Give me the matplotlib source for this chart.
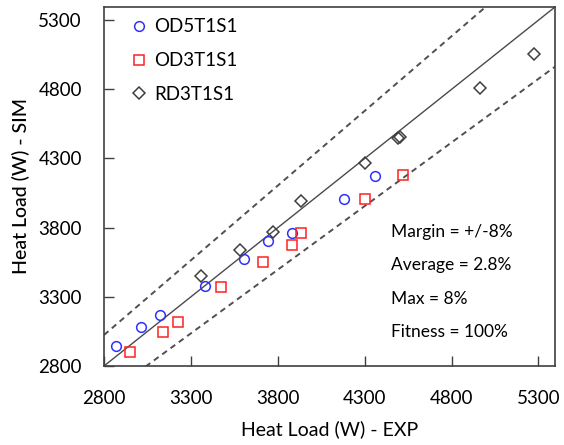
import matplotlib.pyplot as plt
import numpy as np

plt.rcParams['font.family'] = ['Lato', 'DejaVu Sans']

# measured (EXP) vs simulated (SIM) heat load, W
od5_exp = [2869, 3013, 3122, 3380, 3605, 3743, 3880, 4179, 4357]
od5_sim = [2945, 3083, 3170, 3380, 3575, 3706, 3764, 4010, 4177]

od3_exp = [2948, 3141, 3227, 3471, 3716, 3882, 3934, 4304, 4520]
od3_sim = [2904, 3049, 3121, 3370, 3551, 3677, 3759, 4010, 4178]

rd3_exp = [3361, 3582, 3773, 3936, 4304, 4490, 4505, 4961, 5277]
rd3_sim = [3447, 3641, 3768, 3990, 4268, 4445, 4455, 4812, 5058]

ticks = [2800, 3300, 3800, 4300, 4800, 5300]
lo, hi = 2800, 5395
margin = 0.08

stats = ["Margin = +/-8%", "Average = 2.8%", "Max = 8%", "Fitness = 100%"]


def main():
    fig = plt.figure(figsize=(5.64, 4.45), dpi=100)
    ax = fig.add_axes([104 / 564, 79 / 445, 451 / 564, 359 / 445])

    # 1:1 line and +/- margin band
    line = np.array([lo, hi])
    ax.plot(line, line, color='#4a4a4a', lw=1.0, zorder=1)
    ax.plot(line, line * (1 + margin), color='#505050', lw=1.4,
            dashes=(3, 2.3), zorder=1)
    ax.plot(line, line * (1 - margin), color='#505050', lw=1.4,
            dashes=(3, 2.3), zorder=1)

    ax.plot(od5_exp, od5_sim, 'o', ms=7, mfc='none', mec='#3030ff', mew=1.1,
            label='OD5T1S1')
    ax.plot(od3_exp, od3_sim, 's', ms=7, mfc='none', mec='#ff2020', mew=1.1,
            label='OD3T1S1')
    ax.plot(rd3_exp, rd3_sim, 'D', ms=6.5, mfc='none', mec='#404040', mew=1.1,
            label='RD3T1S1')

    ax.set_xlim(lo, hi)
    ax.set_ylim(lo, hi)
    ax.set_xticks(ticks)
    ax.set_yticks(ticks)
    ax.tick_params(direction='in', length=7, width=1, labelsize=13.5,
                   color='#404040')
    ax.tick_params(axis='x', pad=17)
    ax.tick_params(axis='y', pad=16)
    for s in ax.spines.values():
        s.set_color('#404040')
        s.set_linewidth(1.2)

    ax.set_xlabel('Heat Load (W) - EXP', fontsize=14, labelpad=10)
    ax.set_ylabel('Heat Load (W) - SIM', fontsize=14, fontweight='medium',
                  labelpad=6)

    ax.legend(loc='upper left', frameon=False, fontsize=13.5,
              handlelength=0.6, handletextpad=0.5, labelspacing=0.9,
              borderaxespad=0.2, bbox_to_anchor=(0.04, 1.0))

    for i, t in enumerate(stats):
        ax.text(0.637, 0.373 - i * 0.0928, t, transform=ax.transAxes,
                fontsize=12.5, va='center', ha='left')

    fig.savefig('out.png', dpi=100)


main()
